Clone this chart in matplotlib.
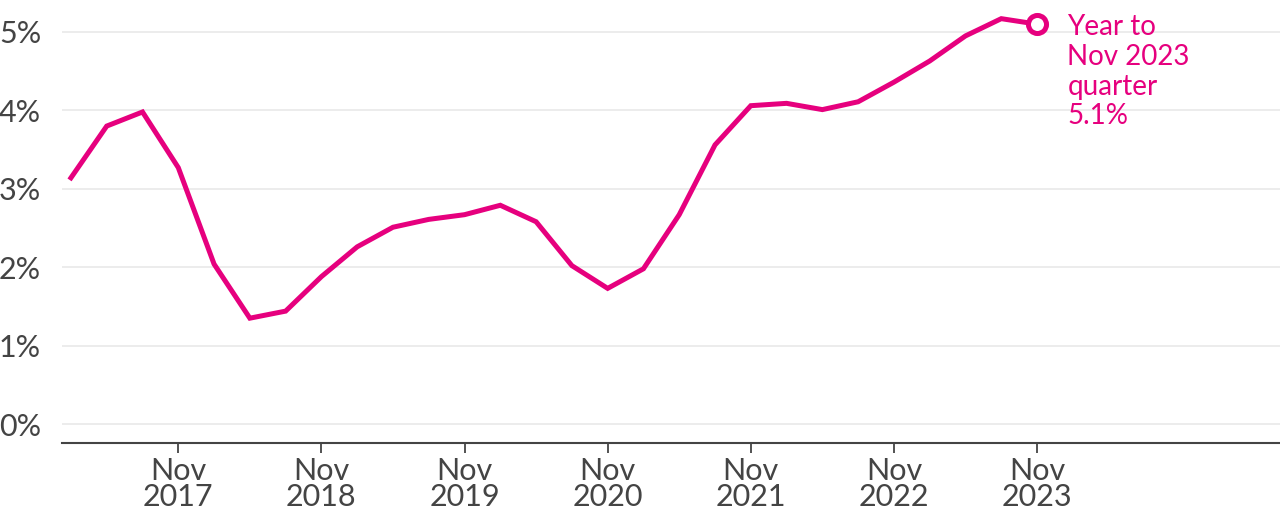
import matplotlib.pyplot as plt

plt.rcParams['font.family'] = ['Lato', 'DejaVu Sans']

quarters = ['Feb 2017', 'May 2017', 'Aug 2017', 'Nov 2017',
            'Feb 2018', 'May 2018', 'Aug 2018', 'Nov 2018',
            'Feb 2019', 'May 2019', 'Aug 2019', 'Nov 2019',
            'Feb 2020', 'May 2020', 'Aug 2020', 'Nov 2020',
            'Feb 2021', 'May 2021', 'Aug 2021', 'Nov 2021',
            'Feb 2022', 'May 2022', 'Aug 2022', 'Nov 2022',
            'Feb 2023', 'May 2023', 'Aug 2023', 'Nov 2023']
growth = [3.14, 3.80, 3.98, 3.27,
          2.04, 1.35, 1.44, 1.88,
          2.26, 2.51, 2.61, 2.67,
          2.79, 2.58, 2.02, 1.73,
          1.98, 2.67, 3.56, 4.06,
          4.09, 4.01, 4.11, 4.36,
          4.63, 4.95, 5.17, 5.10]
tick_labels = ['Nov\n2017', 'Nov\n2018', 'Nov\n2019', 'Nov\n2020',
               'Nov\n2021', 'Nov\n2022', 'Nov\n2023']
y_ticks = [0, 1, 2, 3, 4, 5]

pink = '#E6007E'
grey = '#444444'

fig = plt.figure(figsize=(12.8, 5.16), dpi=100)
ax = fig.add_axes([62 / 1280, 73 / 516, 1 - 62 / 1280, 443 / 516])

x = list(range(len(growth)))
ax.plot(x, growth, color=pink, lw=3.6, solid_joinstyle='miter', zorder=3)
ax.plot(x[-1], growth[-1], 'o', ms=13, mfc='white', mec=pink, mew=3.6, zorder=4)
ax.text(x[-1] + 0.85, growth[-1] + 0.13,
        'Year to\nNov 2023\nquarter\n%.1f%%' % growth[-1],
        color=pink, fontsize=20, va='top', ha='left', linespacing=1.18)

ax.set_xlim(-0.25, 33.79)
ax.set_ylim(-0.242, 5.408)

ax.set_yticks(y_ticks)
ax.set_yticklabels(['%d%%' % v for v in y_ticks])
ax.grid(axis='y', color='#ececec', lw=1.4)
ax.set_axisbelow(True)

nov_idx = [i for i, q in enumerate(quarters) if q.startswith('Nov')]
ax.set_xticks(nov_idx)
ax.set_xticklabels(tick_labels, linespacing=0.92)

for s in ['top', 'right', 'left']:
    ax.spines[s].set_visible(False)
ax.spines['bottom'].set_color(grey)
ax.spines['bottom'].set_linewidth(1.5)

ax.tick_params(axis='y', length=0, pad=15, labelsize=22, labelcolor=grey)
ax.tick_params(axis='x', length=7, width=1.3, color=grey, pad=3,
               labelsize=22, labelcolor=grey)

fig.savefig('out.png', dpi=100)
